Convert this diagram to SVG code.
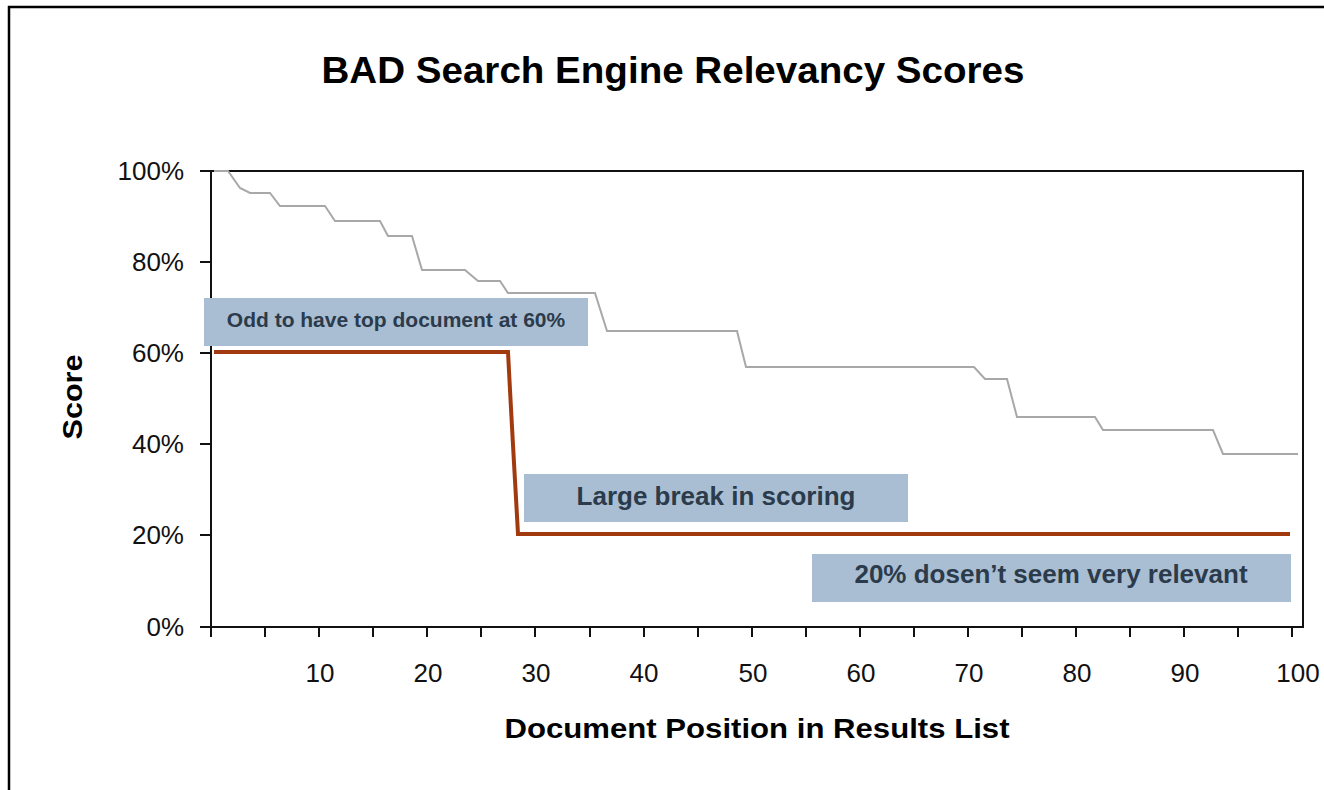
<svg xmlns="http://www.w3.org/2000/svg" width="1324" height="790" viewBox="0 0 1324 790">
<style>
.tick{stroke:#111;stroke-width:2;fill:none}
.ylab{font-family:"Liberation Sans",Arial,sans-serif;font-size:26px;fill:#111;text-anchor:end}
.xlab{font-family:"Liberation Sans",Arial,sans-serif;font-size:26px;fill:#111;text-anchor:middle}
.bold{font-family:"Liberation Sans",Arial,sans-serif;font-weight:bold;fill:#000}
.box{fill:#a9bed2}
.note{font-family:"Liberation Sans",Arial,sans-serif;font-weight:bold;fill:#2b3b4b;text-anchor:middle}
</style>
<rect width="1324" height="790" fill="#fff"/>
<rect x="9" y="7" width="1330" height="800" fill="none" stroke="#000" stroke-width="2.5"/>
<text class="bold" x="673" y="83" font-size="37" text-anchor="middle" textLength="703" lengthAdjust="spacingAndGlyphs">BAD Search Engine Relevancy Scores</text>

<g id="axes">
<rect x="211" y="171" width="1092" height="456" fill="none" stroke="#111" stroke-width="2"/>
<path class="tick" d="M200,171H211M200,262H211M200,353H211M200,444H211M200,535H211M200,627H211"/>
<path class="tick" d="M211,627V637M265,627V637M319,627V637M373,627V637M427,627V637M481,627V637M535,627V637M590,627V637M644,627V637M698,627V637M752,627V637M806,627V637M860,627V637M914,627V637M968,627V637M1022,627V637M1076,627V637M1130,627V637M1184,627V637M1238,627V637M1292,627V637"/>
<text class="ylab" x="184" y="180">100%</text>
<text class="ylab" x="184" y="271">80%</text>
<text class="ylab" x="184" y="362">60%</text>
<text class="ylab" x="184" y="453">40%</text>
<text class="ylab" x="184" y="544">20%</text>
<text class="ylab" x="184" y="636">0%</text>
<text class="xlab" x="320" y="682">10</text>
<text class="xlab" x="428" y="682">20</text>
<text class="xlab" x="536" y="682">30</text>
<text class="xlab" x="644" y="682">40</text>
<text class="xlab" x="753" y="682">50</text>
<text class="xlab" x="861" y="682">60</text>
<text class="xlab" x="969" y="682">70</text>
<text class="xlab" x="1077" y="682">80</text>
<text class="xlab" x="1185" y="682">90</text>
<text class="xlab" x="1298" y="682">100</text>
<text class="bold" x="757" y="738" font-size="28" text-anchor="middle" textLength="505" lengthAdjust="spacingAndGlyphs">Document Position in Results List</text>
<text class="bold" transform="translate(82,397) rotate(-90)" font-size="28" text-anchor="middle" textLength="85" lengthAdjust="spacingAndGlyphs">Score</text>
</g>

<g id="series">
<path d="M214,171 L228,171 L240,188 L250,193 L270,193 L280,206 L325,206 L335,221 L380,221 L388,236 L412,236 L422,270 L465,270 L478,281 L500,281 L508,293 L595,293 L607,331 L737,331 L746,367 L974,367 L985,379 L1007,379 L1017,417 L1095,417 L1103,430 L1213,430 L1223,454 L1298,454" fill="none" stroke="#a8a8a8" stroke-width="2"/>
<path d="M214,352 L508,352 L510,390 L512,427 L514,463 L516,498 L518,534 L1290,534" fill="none" stroke="#a23a10" stroke-width="4" stroke-linejoin="miter"/>
</g>

<g id="note-top">
<rect class="box" x="204" y="298" width="384" height="48"/>
<text class="note" x="396" y="327" font-size="21">Odd to have top document at 60%</text>
</g>
<g id="note-break">
<rect class="box" x="524" y="474" width="384" height="48"/>
<text class="note" x="716" y="505" font-size="26">Large break in scoring</text>
</g>
<g id="note-low">
<rect class="box" x="812" y="554" width="479" height="48"/>
<text class="note" x="1051" y="583" font-size="26">20% dosen’t seem very relevant</text>
</g>
</svg>
